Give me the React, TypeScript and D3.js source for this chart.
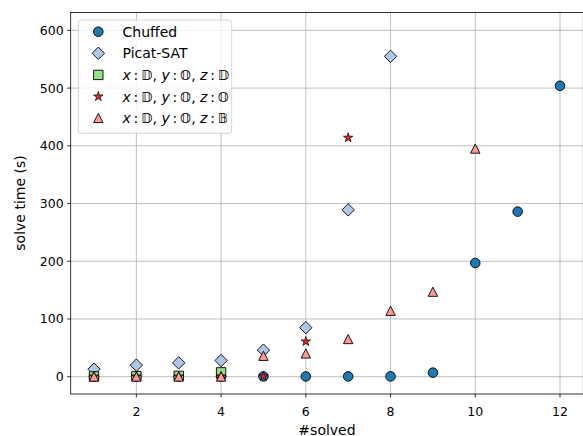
import React from "react";
import * as d3 from "d3";

// #solved (x) vs solve time in seconds (y), one list per solver
const chuffedSolved = [1, 2, 3, 4, 5, 6, 7, 8, 9, 10, 11, 12];
const chuffedTime = [0.3, 0.3, 0.3, 0.3, 0.4, 0.4, 0.5, 0.5, 7, 197, 286, 504];

const picatSolved = [1, 2, 3, 4, 5, 6, 7, 8];
const picatTime = [13, 20, 24, 28, 46, 85, 289, 555];

const ddSolved = [1, 2, 3, 4];
const ddTime = [0.5, 1, 1.5, 7.5];

const doSolved = [1, 2, 3, 4, 5, 6, 7];
const doTime = [0.3, 0.3, 0.3, 0.5, 0.5, 61, 414];

const dbSolved = [1, 2, 3, 4, 5, 6, 7, 8, 9, 10];
const dbTime = [0, 0, 0, 0, 36, 40, 65, 114, 147, 395];

const xTicks = [2, 4, 6, 8, 10, 12];
const yTicks = [0, 100, 200, 300, 400, 500, 600];

const W = 583;
const H = 436;
const left = 70.7;
const right = 583.3;
const top = 12.5;
const bottom = 394;

const x = d3.scaleLinear().domain([0.45, 12.55]).range([left, right]);
const y = d3.scaleLinear().domain([-30, 631]).range([bottom, top]);

const circle = d3.symbol(d3.symbolCircle, Math.PI * 4.8 * 4.8)() as string;
const square = d3.symbol(d3.symbolSquare, 9.4 * 9.4)() as string;
const star = d3.symbol(d3.symbolStar, 28)() as string;
const diamond = "M0,-6.2L6.2,0L0,6.2L-6.2,0Z";
const triangle = "M0,-4.7L4.7,4.5L-4.7,4.5Z";

const mathFont = "DejaVu Sans";

function MathLabel({ z }: { z: string }) {
  return (
    <>
      <tspan fontStyle="italic">x</tspan>
      <tspan>{"\u2009:\u2009"}</tspan>
      <tspan fontStyle="italic">{"\u{1D53B}"}</tspan>
      <tspan>{", "}</tspan>
      <tspan fontStyle="italic">y</tspan>
      <tspan>{"\u2009:\u2009"}</tspan>
      <tspan fontStyle="italic">{"\u{1D546}"}</tspan>
      <tspan>{", "}</tspan>
      <tspan fontStyle="italic">z</tspan>
      <tspan>{"\u2009:\u2009"}</tspan>
      <tspan fontStyle="italic">{z}</tspan>
    </>
  );
}

const series = [
  { name: "Chuffed", xs: chuffedSolved, ys: chuffedTime, path: circle, fill: "#1f77b4", sw: 0.9, label: null },
  { name: "Picat-SAT", xs: picatSolved, ys: picatTime, path: diamond, fill: "#aec7e8", sw: 0.9, label: null },
  { name: "dd", xs: ddSolved, ys: ddTime, path: square, fill: "#98df8a", sw: 0.9, label: "\u{1D53B}" },
  { name: "do", xs: doSolved, ys: doTime, path: star, fill: "#d62728", sw: 0.7, label: "\u{1D546}" },
  { name: "db", xs: dbSolved, ys: dbTime, path: triangle, fill: "#ff9896", sw: 0.9, label: "\u{1D539}" },
];

export default function App() {
  return (
    <svg
      width={W}
      height={H}
      style={{ position: "absolute", left: 0, top: 0, background: "#fff" }}
      fontFamily="DejaVu Sans, sans-serif"
    >
      <rect width={W} height={H} fill="#fff" />
      {/* grid */}
      <g stroke="#b0b0b0" strokeWidth={0.8}>
        {xTicks.map((t) => (
          <line key={"gx" + t} x1={x(t)} x2={x(t)} y1={top} y2={bottom} />
        ))}
        {yTicks.map((t) => (
          <line key={"gy" + t} x1={left} x2={right} y1={y(t)} y2={y(t)} />
        ))}
      </g>
      {/* markers */}
      {series.map((s) => (
        <g key={s.name} fill={s.fill} stroke="#000" strokeWidth={s.sw}>
          {s.xs.map((v, i) => (
            <path key={i} d={s.path} transform={`translate(${x(v)},${y(s.ys[i])})`} />
          ))}
        </g>
      ))}
      {/* spines */}
      <rect x={left} y={top} width={right - left} height={bottom - top} fill="none" stroke="#000" strokeWidth={0.8} />
      {/* ticks */}
      <g stroke="#000" strokeWidth={0.8}>
        {xTicks.map((t) => (
          <line key={"tx" + t} x1={x(t)} x2={x(t)} y1={bottom} y2={bottom + 3.5} />
        ))}
        {yTicks.map((t) => (
          <line key={"ty" + t} x1={left - 3.5} x2={left} y1={y(t)} y2={y(t)} />
        ))}
      </g>
      <g fontSize={12.5} fill="#000">
        {xTicks.map((t) => (
          <text key={"lx" + t} x={x(t)} y={415.5} textAnchor="middle">
            {t}
          </text>
        ))}
        {yTicks.map((t) => (
          <text key={"ly" + t} x={left - 7} y={y(t)} dy="0.36em" textAnchor="end">
            {t}
          </text>
        ))}
      </g>
      <text x={(left + right) / 2} y={434.5} fontSize={14} textAnchor="middle">
        #solved
      </text>
      <text transform={`translate(25,203) rotate(-90)`} fontSize={14} textAnchor="middle">
        solve time (s)
      </text>
      {/* legend */}
      <rect x={78.3} y={20} width={153.4} height={113.3} rx={2.5} fill="#fff" fillOpacity={0.8} stroke="#cccccc" strokeWidth={0.8} />
      {series.map((s, i) => {
        const ly = 31.7 + i * 21.6;
        return (
          <g key={"leg" + s.name}>
            <path d={s.path} transform={`translate(98.3,${ly})`} fill={s.fill} stroke="#000" strokeWidth={s.sw} />
            <text x={122.5} y={ly} dy="0.36em" fontSize={14} fontFamily={s.label ? mathFont : undefined}>
              {s.label ? <MathLabel z={s.label} /> : s.name}
            </text>
          </g>
        );
      })}
    </svg>
  );
}
